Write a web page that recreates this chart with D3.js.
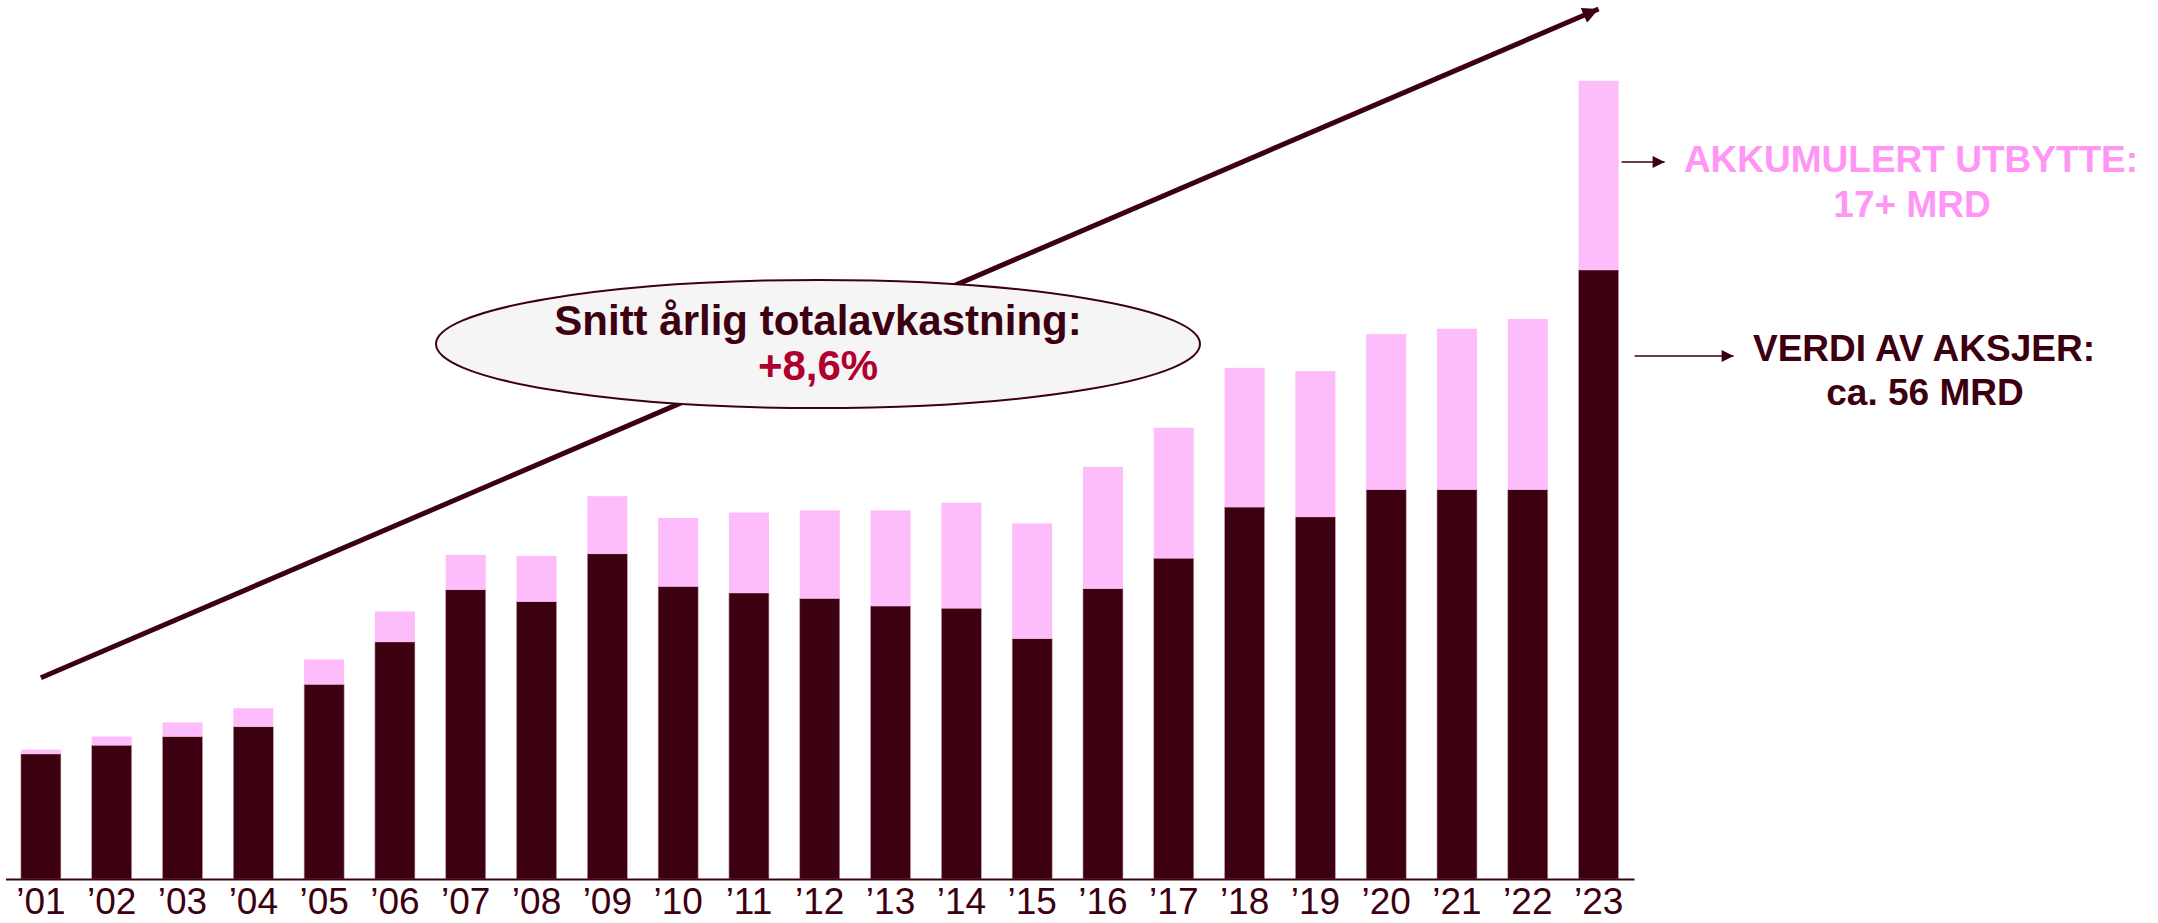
<!DOCTYPE html>
<html>
<head>
<meta charset="utf-8">
<script src="https://cdn.jsdelivr.net/npm/d3@7"></script>
<style>
  body { margin: 0; background: #fff; }
  svg { display: block; }
</style>
</head>
<body>
<div id="chart"></div>
<script>
// values in MRD
const years = ["’01", "’02", "’03", "’04", "’05", "’06", "’07", "’08", "’09", "’10", "’11", "’12",
               "’13", "’14", "’15", "’16", "’17", "’18", "’19", "’20", "’21", "’22", "’23"];
const shareValue = [11.5, 12.3, 13.1, 14.0, 17.9, 21.8, 26.6, 25.5, 29.9, 26.9, 26.3, 25.8,
                    25.1, 24.9, 22.1, 26.7, 29.5, 34.2, 33.3, 35.8, 35.8, 35.8, 56.0];
const dividends = [0.4, 0.8, 1.3, 1.7, 2.3, 2.8, 3.2, 4.2, 5.3, 6.3, 7.4, 8.1,
                   8.8, 9.7, 10.6, 11.2, 12.0, 12.8, 13.4, 14.3, 14.8, 15.7, 17.4];
const trendFrom = 18.5, trendTo = 80;

const dark = "#3c0010";
const pink = "#fdbcfa";
const width = 2158, height = 923;

const data = years.map((y, i) => ({year: y, value: shareValue[i], div: dividends[i]}));

const svg = d3.select("#chart").append("svg")
  .attr("width", width)
  .attr("height", height);

const defs = svg.append("defs");
function marker(id, w, h) {
  defs.append("marker")
    .attr("id", id)
    .attr("viewBox", "0 0 10 10")
    .attr("refX", 10).attr("refY", 5)
    .attr("markerUnits", "userSpaceOnUse")
    .attr("markerWidth", w).attr("markerHeight", h)
    .attr("orient", "auto")
    .append("path")
    .attr("d", "M0,0L10,5L0,10Z")
    .attr("fill", dark);
}
marker("headBig", 22, 16);
marker("headSmall", 14, 12);

const x = d3.scaleBand()
  .domain(years)
  .range([5.5, 1634])
  .paddingInner(0.435)
  .paddingOuter(0.2175);

const y = d3.scaleLinear()
  .domain([0, 80])
  .range([879, 9]);

// stacked bars
const bars = svg.append("g");
bars.selectAll("rect.val")
  .data(data)
  .enter().append("rect")
    .attr("class", "val")
    .attr("x", d => x(d.year))
    .attr("width", x.bandwidth())
    .attr("y", d => y(d.value))
    .attr("height", d => y(0) - y(d.value))
    .attr("fill", dark)
    .attr("stroke", "#c89aae")
    .attr("stroke-width", 0.6);

bars.selectAll("rect.div")
  .data(data)
  .enter().append("rect")
    .attr("class", "div")
    .attr("x", d => x(d.year))
    .attr("width", x.bandwidth())
    .attr("y", d => y(d.value + d.div))
    .attr("height", d => y(d.value) - y(d.value + d.div))
    .attr("fill", pink);

// x axis
const axis = svg.append("g")
  .attr("transform", "translate(0," + y(0) + ")")
  .call(d3.axisBottom(x).tickSize(0).tickSizeOuter(0).tickPadding(9));
axis.select(".domain").attr("stroke", dark).attr("stroke-width", 2);
axis.selectAll("text")
  .attr("fill", dark)
  .style("font-family", "'Liberation Sans Narrow', 'Arial Narrow', sans-serif")
  .style("font-size", "37px");

// trend arrow
const first = years[0], last = years[years.length - 1];
svg.append("line")
  .attr("x1", x(first) + x.bandwidth() / 2)
  .attr("y1", y(trendFrom))
  .attr("x2", x(last) + x.bandwidth() / 2)
  .attr("y2", y(trendTo))
  .attr("stroke", dark)
  .attr("stroke-width", 5)
  .attr("marker-end", "url(#headBig)");

// ellipse callout
const callout = svg.append("g").attr("transform", "translate(818,344)");
callout.append("ellipse")
  .attr("rx", 382)
  .attr("ry", 64)
  .attr("fill", "#f5f5f5")
  .attr("stroke", dark)
  .attr("stroke-width", 2);
callout.append("text")
  .attr("text-anchor", "middle")
  .attr("y", -9)
  .attr("fill", dark)
  .style("font-family", "'Liberation Sans', Arial, sans-serif")
  .style("font-weight", "bold")
  .style("font-size", "42px")
  .text("Snitt årlig totalavkastning:");
callout.append("text")
  .attr("text-anchor", "middle")
  .attr("y", 36)
  .attr("fill", "#b0002e")
  .style("font-family", "'Liberation Sans', Arial, sans-serif")
  .style("font-weight", "bold")
  .style("font-size", "42px")
  .text("+8,6%");

// right side labels
const barRight = x(last) + x.bandwidth();
svg.append("line")
  .attr("x1", barRight + 3).attr("y1", 162)
  .attr("x2", barRight + 46).attr("y2", 162)
  .attr("stroke", dark).attr("stroke-width", 1.5)
  .attr("marker-end", "url(#headSmall)");
svg.append("line")
  .attr("x1", barRight + 16).attr("y1", 356)
  .attr("x2", barRight + 115).attr("y2", 356)
  .attr("stroke", dark).attr("stroke-width", 1.5)
  .attr("marker-end", "url(#headSmall)");

const labelFont = "'Liberation Sans', Arial, sans-serif";
const rightLabels = [
  {text: "AKKUMULERT UTBYTTE:", x: 1911, y: 172, color: "#ff96f6"},
  {text: "17+ MRD", x: 1912, y: 217, color: "#ff96f6"},
  {text: "VERDI AV AKSJER:", x: 1924, y: 361, color: dark},
  {text: "ca. 56 MRD", x: 1925, y: 405, color: dark}
];
svg.selectAll("text.side")
  .data(rightLabels)
  .enter().append("text")
    .attr("class", "side")
    .attr("x", d => d.x)
    .attr("y", d => d.y)
    .attr("text-anchor", "middle")
    .attr("fill", d => d.color)
    .style("font-family", labelFont)
    .style("font-weight", "bold")
    .style("font-size", "37px")
    .text(d => d.text);
</script>
</body>
</html>
